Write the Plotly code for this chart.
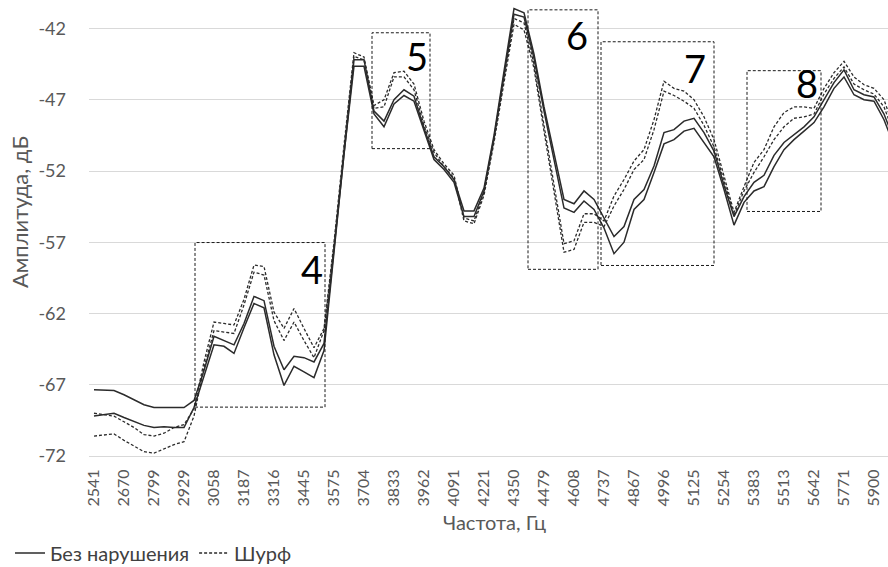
import plotly.graph_objects as go

# Frequency bins (Hz)
freqs = [2541, 2584, 2627, 2670, 2713, 2756, 2799, 2842, 2885, 2929, 2972, 3015,
         3058, 3101, 3144, 3187, 3230, 3273, 3316, 3359, 3402, 3445, 3488, 3531,
         3575, 3618, 3661, 3704, 3747, 3790, 3833, 3876, 3919, 3962, 4005, 4048,
         4091, 4134, 4177, 4221, 4264, 4307, 4350, 4393, 4436, 4479, 4522, 4565,
         4608, 4651, 4694, 4737, 4780, 4823, 4867, 4910, 4953, 4996, 5039, 5082,
         5125, 5168, 5211, 5254, 5297, 5340, 5383, 5426, 5469, 5513, 5556, 5599,
         5642, 5685, 5728, 5771, 5814, 5857, 5900, 5943, 5986]
cats = [str(f) for f in freqs]
tick_labels = ["2541", "2670", "2799", "2929", "3058", "3187", "3316", "3445", "3575",
               "3704", "3833", "3962", "4091", "4221", "4350", "4479", "4608", "4737",
               "4867", "4996", "5125", "5254", "5383", "5513", "5642", "5771", "5900"]
y_ticks = [-72, -67, -62, -57, -52, -47, -42]
y_tick_text = ["-72", "-67", "-62", "-57", "-52", "-47", "-42"]

# "Без нарушения" (two measurements, solid)
solid_a = [-67.35, -67.35, -67.4, -67.7, -68.05, -68.4, -68.6, -68.6, -68.6, -68.6,
           -68.1, -66.0, -63.6, -63.9, -64.2, -62.7, -60.8, -61.1, -64.3, -65.95,
           -65.0, -65.1, -65.4, -64.1, -57.3, -50.5, -44.2, -44.2, -47.8, -48.5,
           -47.0, -46.3, -46.75, -49.0, -51.0, -51.7, -52.6, -54.8, -54.8, -53.2,
           -49.5, -45.0, -40.6, -40.9, -43.8, -47.5, -50.8, -54.0, -54.3, -53.4,
           -54.0, -55.3, -56.6, -55.9, -54.0, -53.3, -51.65, -49.3, -49.1, -48.5,
           -48.3, -49.3, -50.6, -53.0, -55.2, -53.8, -52.8, -52.3, -50.9, -50.0,
           -49.45, -48.9, -48.2, -47.0, -45.8, -44.9, -46.3, -46.65, -46.8, -48.0,
           -49.8]
solid_b = [-69.2, -69.1, -69.0, -69.3, -69.6, -69.85, -70.0, -69.95, -70.0, -70.0,
           -68.6, -66.4, -64.2, -64.3, -64.8, -63.0, -61.3, -61.6, -64.9, -67.05,
           -65.7, -66.1, -66.5, -64.6, -57.6, -50.8, -44.65, -44.65, -48.0, -48.9,
           -47.3, -46.7, -47.1, -49.2, -51.2, -51.9, -52.8, -55.2, -55.2, -53.4,
           -49.7, -45.3, -41.0, -41.2, -44.1, -47.8, -51.2, -54.6, -54.9, -54.1,
           -54.7, -56.0, -57.8, -57.0, -54.7, -54.0, -52.1, -50.1, -49.8, -49.2,
           -49.0, -50.0, -51.0, -53.3, -55.8, -54.2, -53.4, -53.1, -51.7, -50.5,
           -49.8, -49.2, -48.6, -47.5, -46.2, -45.4, -46.65, -47.0, -47.1, -48.4,
           -50.2]
# "Шурф" (two measurements, dashed)
dash_a = [-69.0, -69.1, -69.2, -69.6, -70.0, -70.5, -70.6, -70.4, -70.0, -69.8,
          -68.7, -65.4, -62.6, -62.7, -62.8, -61.0, -58.6, -58.7, -61.9, -63.05,
          -61.65, -63.05, -64.4, -63.05, -57.0, -50.2, -43.7, -44.0, -47.4, -47.0,
          -45.1, -45.0, -45.9, -48.5, -50.5, -51.5, -52.3, -55.3, -55.5, -53.5,
          -49.8, -45.5, -41.3, -41.6, -44.5, -48.8, -53.0, -57.1, -56.9, -55.0,
          -55.0, -55.5, -53.75, -52.6, -51.3, -50.5, -48.4, -45.7, -46.2, -46.4,
          -47.0, -48.2, -49.8, -52.4, -54.9, -53.1, -51.4, -50.5, -48.9, -47.9,
          -47.5, -47.5, -47.6, -46.2, -45.1, -44.3, -45.4, -45.95, -46.2, -47.0,
          -49.0]
dash_b = [-70.6, -70.5, -70.45, -70.9, -71.3, -71.7, -71.8, -71.5, -71.2, -71.0,
          -69.2, -65.8, -63.2, -63.3, -63.4, -61.4, -59.1, -59.3, -62.5, -63.9,
          -62.6, -63.9, -65.1, -63.2, -57.3, -50.5, -43.95, -44.2, -47.6, -47.5,
          -45.4, -45.4, -46.3, -48.8, -50.7, -51.7, -52.5, -55.5, -55.7, -53.7,
          -50.0, -45.8, -41.7, -42.1, -44.8, -49.2, -53.5, -57.7, -57.5, -55.6,
          -55.6, -55.9, -54.45, -53.3, -51.9, -51.2, -49.1, -46.4, -46.7, -47.1,
          -47.6, -48.8, -50.3, -52.7, -55.1, -53.4, -52.1, -51.0, -49.8, -48.9,
          -48.3, -48.2, -48.0, -46.6, -45.5, -44.7, -45.9, -46.3, -46.6, -47.5,
          -49.4]

# Highlighted zones: label, x from/to (category index), y from/to (dB), label position
zone_labels = ["4", "5", "6", "7", "8"]
zone_x0 = [10.1, 27.8, 43.4, 50.7, 65.3]
zone_x1 = [23.1, 33.6, 50.4, 62.0, 72.7]
zone_y0 = [-68.57, -50.43, -58.9, -58.63, -54.84]
zone_y1 = [-57.02, -42.3, -40.69, -42.93, -44.96]
zone_lx = [21.8, 32.3, 48.3, 60.1, 71.3]
zone_ly = [-58.9, -43.9, -42.45, -44.76, -45.8]

FONT = "Lato, Carlito, Calibri, sans-serif"
LINE = "#2b2b2b"
TXT = "#595959"

# plot area in pixels (for placing titles outside it)
PL, PR, PT, PB = 89, 888, 0, 456
PW, PH = PR - PL, PB - PT


def px(xp):
    return (xp - PL) / PW


def py(yp):
    return (PB - yp) / PH


fig = go.Figure()
xi = list(range(len(cats)))
fig.add_trace(go.Scatter(x=xi, y=solid_a, mode="lines", name="Без нарушения",
                         line=dict(color=LINE, width=1.5), legendgroup="s"))
fig.add_trace(go.Scatter(x=xi, y=solid_b, mode="lines", name="Без нарушения",
                         line=dict(color=LINE, width=1.5), legendgroup="s", showlegend=False))
fig.add_trace(go.Scatter(x=xi, y=dash_a, mode="lines", name="Шурф",
                         line=dict(color=LINE, width=1.3, dash="3px,2px"), legendgroup="d"))
fig.add_trace(go.Scatter(x=xi, y=dash_b, mode="lines", name="Шурф",
                         line=dict(color=LINE, width=1.3, dash="3px,2px"), legendgroup="d", showlegend=False))

for lab, a0, a1, b0, b1, lx, ly in zip(zone_labels, zone_x0, zone_x1, zone_y0, zone_y1, zone_lx, zone_ly):
    fig.add_shape(type="rect", xref="x", yref="y", x0=a0, x1=a1, y0=b0, y1=b1,
                  line=dict(color="#1a1a1a", width=1, dash="3px,2px"))
    fig.add_annotation(x=lx, y=ly, xref="x", yref="y", text=lab, showarrow=False,
                       font=dict(family=FONT, size=38, color="#000000"))

tickpos = [xi[k] for k in range(0, len(cats), 3)][:len(tick_labels)]

fig.update_layout(
    width=888, height=567,
    margin=dict(l=PL, r=888 - PR, t=PT, b=567 - PB, autoexpand=False),
    paper_bgcolor="white", plot_bgcolor="white",
    font=dict(family=FONT, color=TXT),
    showlegend=True,
    legend=dict(orientation="h", x=px(10), y=py(553), xanchor="left", yanchor="middle",
                font=dict(family=FONT, size=20, color="#404040"),
                bgcolor="rgba(0,0,0,0)", itemwidth=30, tracegroupgap=0),
    xaxis=dict(range=[-0.5, 79.4], tickvals=tickpos, ticktext=tick_labels,
               tickangle=-90, showgrid=False, zeroline=False, automargin=False,
               showline=True, linecolor="#d9d9d9", linewidth=1, ticks="",
               tickfont=dict(family=FONT, size=16, color=TXT),
               ticklabelstandoff=6),
    yaxis=dict(range=[-72, -40], tickvals=y_ticks, ticktext=y_tick_text,
               showgrid=True, gridcolor="#d9d9d9", gridwidth=1, zeroline=False,
               showline=False, ticks="", automargin=False,
               tickfont=dict(family=FONT, size=18, color=TXT),
               ticklabelstandoff=22),
)
fig.add_annotation(xref="paper", yref="paper", x=px(19), y=py(212),
                   xanchor="center", yanchor="middle",
                   text="Амплитуда, дБ", textangle=-90, showarrow=False,
                   font=dict(family=FONT, size=22, color=TXT))
fig.add_annotation(xref="paper", yref="paper", x=px(494), y=py(522),
                   xanchor="center", yanchor="middle",
                   text="Частота, Гц", showarrow=False,
                   font=dict(family=FONT, size=20, color=TXT))

fig.write_html("out.html")
